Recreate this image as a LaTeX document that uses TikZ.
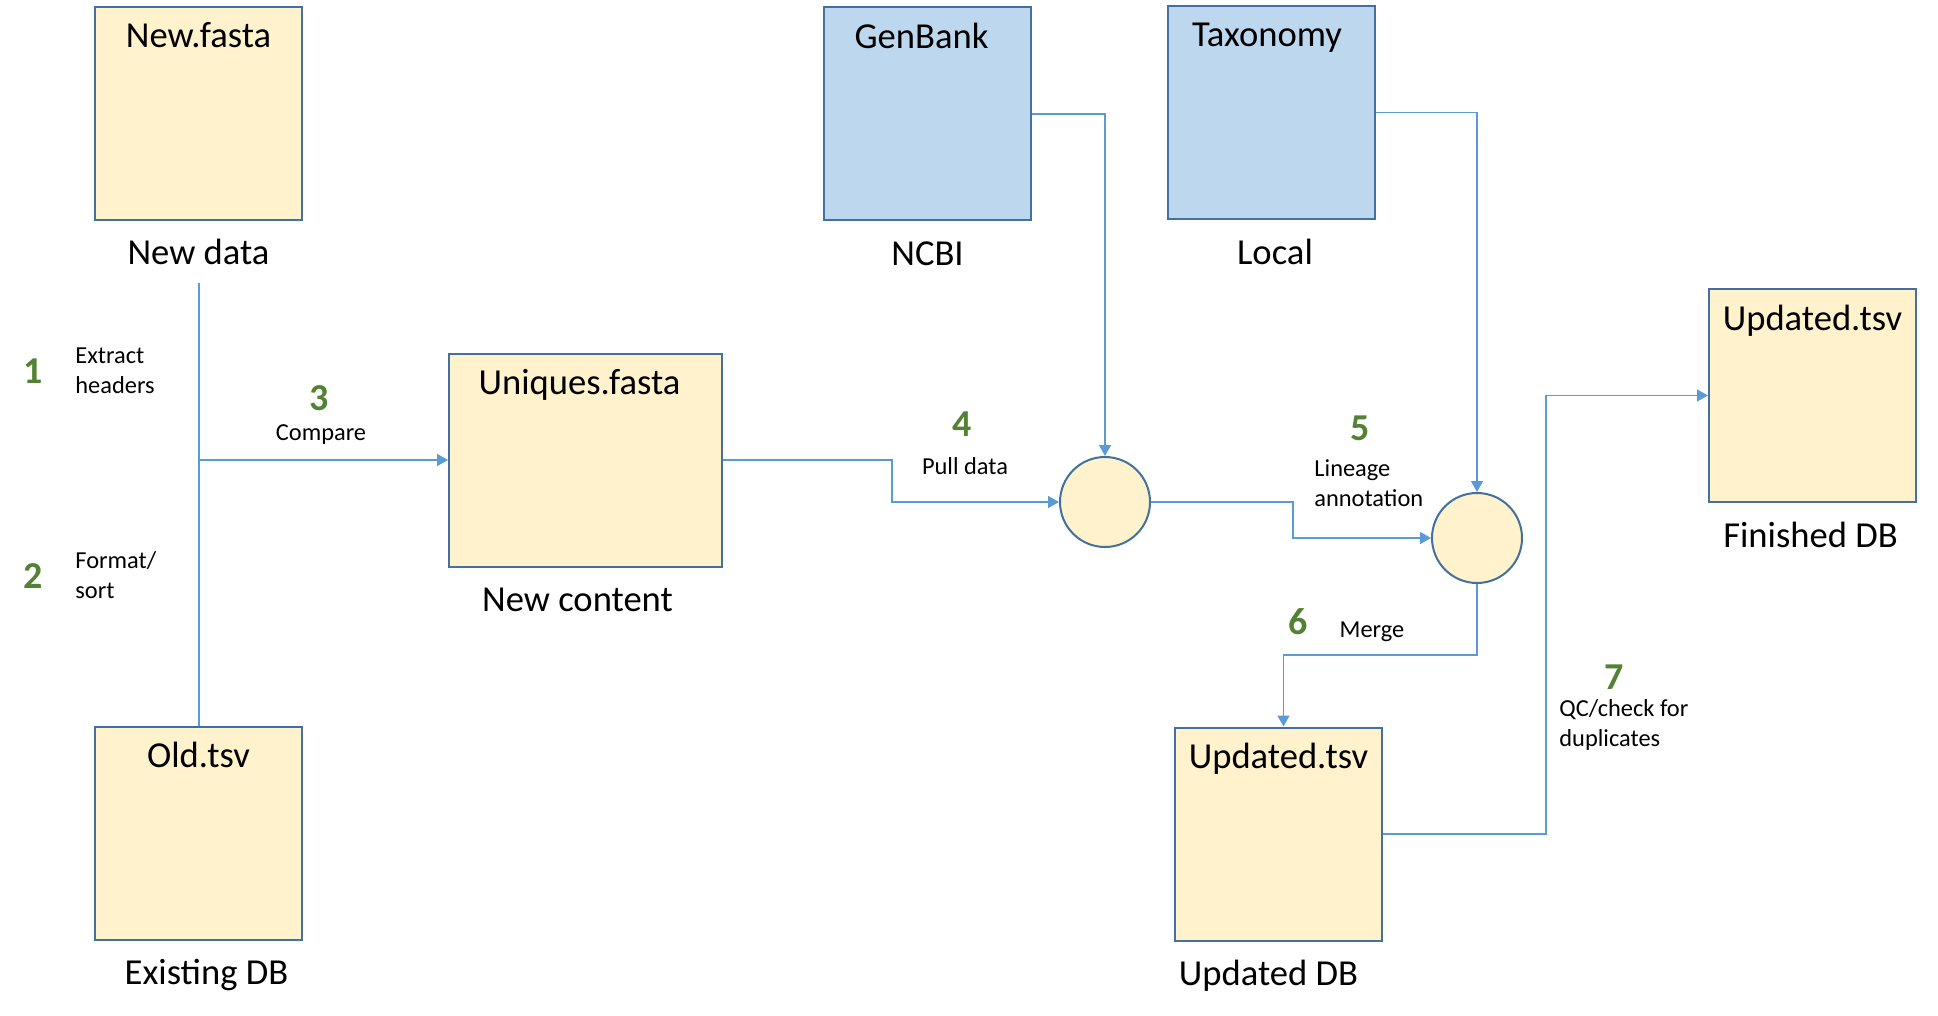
\documentclass[tikz,border=0pt]{standalone}
\usepackage{fontspec}
\setmainfont{Carlito}
\usepackage{xcolor}
\usetikzlibrary{positioning,shapes,arrows.meta}
\definecolor{boxfill}{HTML}{FFF2CC}
\definecolor{boxline}{HTML}{41719C}
\definecolor{srcfill}{HTML}{BDD7EE}
\definecolor{flowline}{HTML}{5B9BD5}
\definecolor{stepgreen}{HTML}{548235}

\begin{document}
\begin{tikzpicture}[x=0.5pt,y=-0.5pt,
  filebox/.style={draw=boxline,line width=1pt,fill=boxfill,minimum width=103.5pt,minimum height=106.5pt,inner sep=0pt},
  srcbox/.style={filebox,fill=srcfill},
  joint/.style={circle,draw=boxline,line width=1pt,fill=boxfill,minimum size=45pt,inner sep=0pt},
  flow/.style={draw=flowline,line width=0.75pt,-{Triangle[width=6pt,length=5.5pt]}},
  title/.style={font=\fontsize{18.3}{22}\selectfont,inner sep=0pt,anchor=base},
  steplabel/.style={font=\fontsize{12.2}{15}\selectfont,inner sep=0pt,align=left},
  stepnum/.style={font=\fontsize{19}{22}\selectfont\bfseries,text=stepgreen,inner sep=0pt}]
\useasboundingbox (0,0) rectangle (1938,1016);
\node[filebox] (newfasta) at (198.5,113.5) {};
\node[title] (newfastaname) at ([yshift=-21pt]newfasta.north) {New.fasta};
\node[title] (newdata) at ([yshift=-22pt]newfasta.south) {New data};
\node[filebox] (oldtsv) at (198.5,833) {};
\node[title] (oldtsvname) at ([yshift=-21pt]oldtsv.north) {Old.tsv};
\node[title] (existdb) at ([xshift=4pt,yshift=-22pt]oldtsv.south) {Existing DB};
\node[srcbox] (genbank) at (927.5,114) {};
\node[title] (genbankname) at ([xshift=-3pt,yshift=-21pt]genbank.north) {GenBank};
\node[title] (ncbi) at ([yshift=-22pt]genbank.south) {NCBI};
\node[srcbox] (taxonomy) at (1271,112.5) {};
\node[title] (taxonomyname) at ([xshift=-2pt,yshift=-21pt]taxonomy.north) {Taxonomy};
\node[title] (local) at ([xshift=2pt,yshift=-22pt]taxonomy.south) {Local};
\node[filebox,minimum width=136.5pt] (uniques) at (585.5,460) {};
\node[title] (uniquesname) at ([xshift=-3pt,yshift=-21pt]uniques.north) {Uniques.fasta};
\node[title] (newcontent) at ([xshift=-4pt,yshift=-22pt]uniques.south) {New content};
\node[filebox] (updtsv) at (1278.5,834) {};
\node[title] (updtsvname) at ([yshift=-21pt]updtsv.north) {Updated.tsv};
\node[title] (updateddb) at ([xshift=-5pt,yshift=-22pt]updtsv.south) {Updated DB};
\node[filebox] (fintsv) at (1812.5,395.5) {};
\node[title] (fintsvname) at ([yshift=-21pt]fintsv.north) {Updated.tsv};
\node[title] (finisheddb) at ([xshift=-1pt,yshift=-22pt]fintsv.south) {Finished DB};
\node[joint] (pull) at (1105,502) {};
\node[joint] (annot) at (1477,538) {};
\coordinate (split) at (199,283);
\draw[draw=flowline,line width=0.75pt] (split) -- (split |- oldtsv.north);
\draw[flow] (split |- uniques.west) -- (uniques.west);
\draw[flow] (uniques.east) -- ++(84.5pt,0) |- (pull.west);
\draw[flow] (genbank.east) -| (pull.north);
\draw[flow] (pull.east) -- ++(71pt,0) |- (annot.west);
\draw[flow] (taxonomy.east) -| (annot.north);
\draw[flow] (annot.south) -- ++(0,-35.5pt) -| ([xshift=2.5pt]updtsv.north);
\draw[flow] (updtsv.east) -- ++(81.5pt,0) |- (fintsv.west);
\node[stepnum] (num1) at (33,371) {1};
\node[steplabel,anchor=west] (extract) at (75,371) {Extract\\headers};
\node[stepnum] (num2) at (33,576) {2};
\node[steplabel,anchor=west] (format) at (75,575) {Format/\\sort};
\node[stepnum] (num3) at (319,398) {3};
\node[steplabel] (compare) at (321,435) {Compare};
\node[stepnum] (num4) at (962,424) {4};
\node[steplabel] (pulldata) at (965,466) {Pull data};
\node[stepnum] (num5) at (1360,428) {5};
\node[steplabel,anchor=west] (lineage) at (1314,483) {Lineage\\annotation};
\node[stepnum] (num6) at (1298,622) {6};
\node[steplabel] (merge) at (1372,632) {Merge};
\node[stepnum] (num7) at (1614,677) {7};
\node[steplabel,anchor=west] (qc) at (1559,725) {QC/check for\\duplicates};
\end{tikzpicture}
\end{document}
